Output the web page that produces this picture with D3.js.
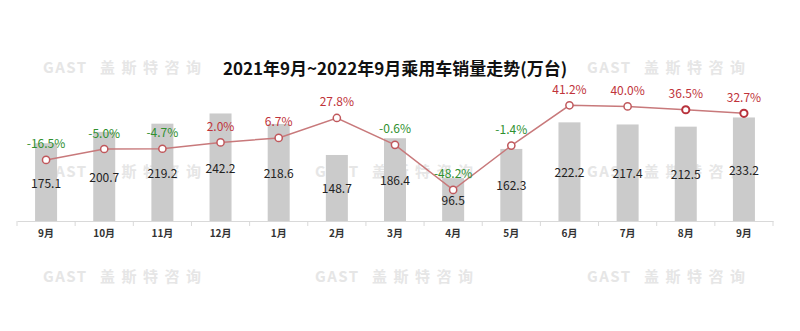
<!DOCTYPE html>
<html><head><meta charset="utf-8">
<script src="https://cdn.jsdelivr.net/npm/d3@7"></script>
<style>body{margin:0;background:#fff}svg{display:block}</style>
</head><body>
<svg id="c" width="800" height="331"></svg>
<script>
const categories = ["9月","10月","11月","12月","1月","2月","3月","4月","5月","6月","7月","8月","9月"];
const sales = [175.1,200.7,219.2,242.2,218.6,148.7,186.4,96.5,162.3,222.2,217.4,212.5,233.2];
const growth = [-16.5,-5.0,-4.7,2.0,6.7,27.8,-0.6,-48.2,-1.4,41.2,40.0,36.5,32.7];
const title = "2021年9月~2022年9月乘用车销量走势(万台)";

const svg = d3.select("#c");
const F = "'Noto Sans CJK SC','Microsoft YaHei',sans-serif";

// watermarks (the middle one of the top row sits under the title and is not shown)
const wmPos = [[43,66],[587,66],[43,170],[315,170],[587,170],[43,275],[315,275],[587,275]];
const wm = svg.append("g").attr("fill","#e6e6e6").attr("font-family",F).attr("font-weight","bold").attr("font-size",15);
wmPos.forEach(([xx,yy]) => {
  const t = wm.append("text").attr("x",xx).attr("y",yy).attr("dominant-baseline","central");
  t.append("tspan").attr("letter-spacing",1.5).text("GAST");
  t.append("tspan").attr("x",xx+57).attr("letter-spacing",6.5).text("盖斯特咨询");
});

const x = d3.scaleBand().domain(d3.range(categories.length)).range([17,773]).padding(0);
const y = d3.scaleLinear().domain([0,250]).range([221,110]);
const y2 = d3.scaleLinear().domain([-60,50]).range([201.1,96.95]);
const bw = x.bandwidth();
const barW = 22;

// bars
svg.append("g").selectAll("rect").data(sales).join("rect")
  .attr("x",(d,i)=>x(i)+bw/2-barW/2).attr("width",barW)
  .attr("y",d=>y(d)).attr("height",d=>y(0)-y(d)).attr("fill","#cbcbcb");

// axis
const ax = svg.append("g").attr("transform",`translate(0,${y(0)})`)
  .call(d3.axisBottom(x).tickSize(0).tickFormat(i=>categories[i]));
ax.select(".domain").attr("stroke","#d9d9d9");
ax.selectAll("text").attr("font-family",F).attr("font-size",10).attr("font-weight","bold").attr("fill","#333").attr("dy","1.25em");
ax.selectAll(".bnd").data(d3.range(categories.length+1)).join("line")
  .attr("x1",i=>i<categories.length?x(i):x(i-1)+bw).attr("x2",i=>i<categories.length?x(i):x(i-1)+bw)
  .attr("y1",0).attr("y2",5).attr("stroke","#d9d9d9");

// bar labels
svg.append("g").selectAll("text").data(sales).join("text")
  .attr("x",(d,i)=>x(i)+bw/2).attr("y",d=>(y(d)+y(0))/2)
  .attr("text-anchor","middle").attr("dominant-baseline","central")
  .attr("font-family",F).attr("font-size",12).attr("fill","#222").text(d=>d.toFixed(1));

// line
const line = d3.line().x((d,i)=>x(i)+bw/2).y(d=>y2(d));
svg.append("path").datum(growth).attr("d",line).attr("fill","none").attr("stroke","#c8797b").attr("stroke-width",1.5);
svg.append("g").selectAll("circle").data(growth).join("circle")
  .attr("cx",(d,i)=>x(i)+bw/2).attr("cy",d=>y2(d)).attr("r",3.6)
  .attr("fill","#fff").attr("stroke",(d,i)=>i>=11?"#b8323c":"#c0585c").attr("stroke-width",(d,i)=>i>=11?2:1.5);
svg.append("g").selectAll("text").data(growth).join("text")
  .attr("x",(d,i)=>x(i)+bw/2).attr("y",d=>y2(d)-17)
  .attr("text-anchor","middle").attr("dominant-baseline","central")
  .attr("font-family",F).attr("font-size",12)
  .attr("fill",d=>d<0?"#2f902f":"#c0333a").text(d=>d.toFixed(1)+"%");

// title
svg.append("text").attr("x",395).attr("y",67).attr("text-anchor","middle").attr("dominant-baseline","central")
  .attr("font-family",F).attr("font-weight","bold").attr("font-size",17).attr("fill","#111").text(title);
</script>
</body></html>
